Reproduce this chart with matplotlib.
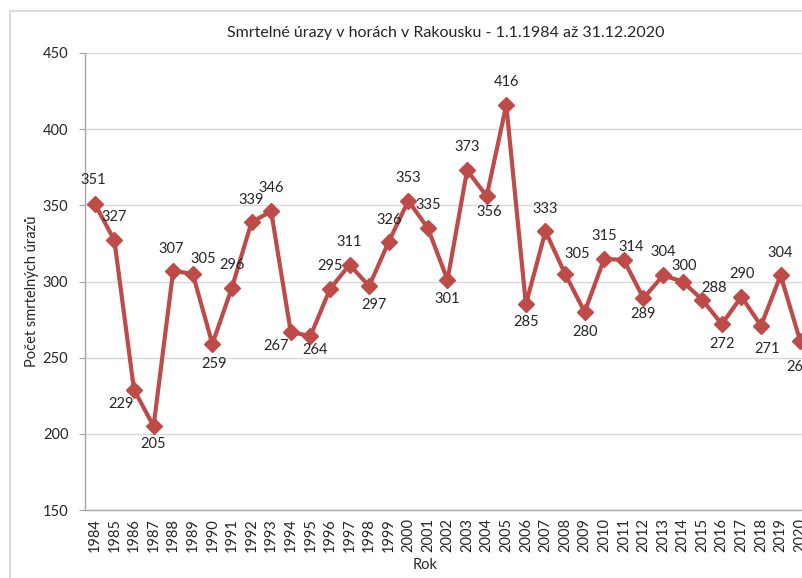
import matplotlib
matplotlib.use("Agg")
import matplotlib.pyplot as plt
from matplotlib.patches import Rectangle

years = list(range(1984, 2021))
deaths = [351, 327, 229, 205, 307, 305, 259, 296, 339, 346,
          267, 264, 295, 311, 297, 326, 353, 335, 301, 373,
          356, 416, 285, 333, 305, 280, 315, 314, 289, 304,
          300, 288, 272, 290, 271, 304, 261]

title = "Smrtelné úrazy v horách v Rakousku - 1.1.1984 až 31.12.2020"
ylabel = "Počet smrtelných úrazů"
xlabel = "Rok"

# label offsets in pixels (dx, dy), dy positive = up
label_off = [(-2, 24), (0, 23), (-13, -14), (0, -18), (-2, 22), (10, 15),
             (2, -20), (0, 23), (0, 22), (0, 23), (-15, -14), (5, -14),
             (0, 23), (0, 23), (5, -19), (0, 22), (0, 23), (0, 23),
             (0, -19), (0, 23), (3, -16), (0, 23), (0, -18), (0, 22),
             (12, 20), (0, -20), (0, 23), (7, 13), (0, -16), (0, 23),
             (2, 15), (12, 12), (0, -20), (1, 23), (6, -23), (0, 22),
             (-1, -26)]

plt.rcParams['font.family'] = ['Lato', 'DejaVu Sans']
red = '#BE4B48'
txt = '#262626'

fig = plt.figure(figsize=(8.03, 5.78), dpi=100)
W, H = 803, 578

# outer chart frame (cropped in the reference)
fig.patches.append(Rectangle((10 / W, -0.1), 1.2, (H - 11) / H + 0.1,
                             transform=fig.transFigure, fill=False,
                             edgecolor='#d4d4d4', linewidth=1.2))

ax = fig.add_axes([85 / W, (H - 510) / H, 725 / W, 457 / H])
x = list(range(len(years)))
ax.plot(x, deaths, color=red, linewidth=3, marker='D', markersize=8,
        clip_on=False, zorder=3)

for xi, v, (dx, dy) in zip(x, deaths, label_off):
    ax.annotate(str(v), (xi, v), xytext=(dx * 0.72, dy * 0.72),
                textcoords='offset points', ha='center', va='center',
                fontsize=10.5, color=txt, annotation_clip=False)

ax.set_xlim(-0.5, len(years) - 0.5)
ax.set_ylim(150, 450)
ax.set_yticks(range(150, 451, 50))
ax.set_xticks(x)
ax.set_xticklabels([str(y) for y in years], rotation=90, fontsize=10.5, color=txt)
ax.tick_params(axis='y', labelsize=10.5, colors='#a0a0a0', labelcolor=txt,
               length=4, pad=8)
ax.tick_params(axis='x', length=0, pad=6)
ax.grid(axis='y', color='#d9d9d9', linewidth=1)
ax.set_axisbelow(True)
for s in ['top', 'right']:
    ax.spines[s].set_visible(False)
for s in ['left', 'bottom']:
    ax.spines[s].set_color('#a6a6a6')
    ax.spines[s].set_linewidth(1)

fig.text(446 / W, 1 - 33 / H, title, ha='center', va='center',
         fontsize=11.5, color=txt)
fig.text(32 / W, 1 - 291 / H, ylabel, ha='center', va='center',
         rotation=90, fontsize=10.5, color=txt)
fig.text(425 / W, 1 - 565 / H, xlabel, ha='center', va='center',
         fontsize=10.5, color=txt)

fig.savefig('out.png', dpi=100)
